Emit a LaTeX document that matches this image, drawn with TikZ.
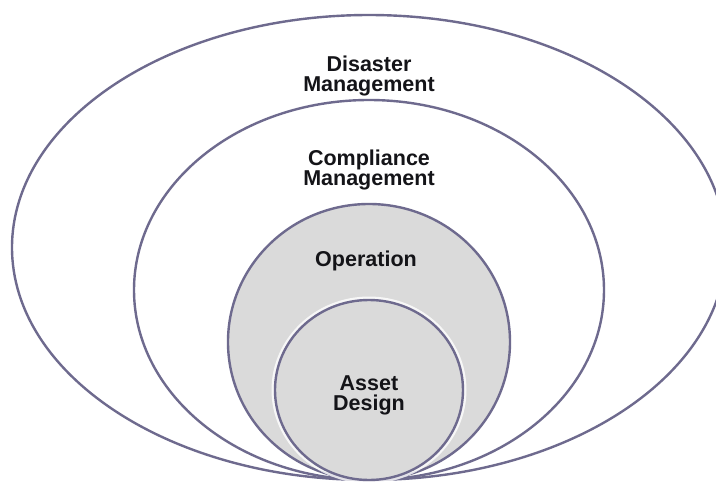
\documentclass[tikz,border=0pt]{standalone}
\usepackage{fontspec}
\setmainfont{Liberation Sans}
\begin{document}
\begin{tikzpicture}[x=1pt,y=-1pt,
  ring/.style={draw=ringline, line width=2.4pt},
  halo/.style={draw=white, line width=7pt, opacity=0.8},
  label/.style={font=\bfseries\fontsize{21.5}{20}\selectfont, text=labeltext,
    align=center, anchor=base, inner sep=0pt}]
  \definecolor{ringline}{RGB}{110,106,142}
  \definecolor{corefill}{RGB}{218,218,218}
  \definecolor{labeltext}{RGB}{20,20,24}
  \useasboundingbox (0,0) rectangle (716,485);
  \clip (0,0) rectangle (716,485);
  \fill[white] (0,0) rectangle (716,485);

  % outer band: disaster management
  \path[ring] (369,247.5) ellipse [x radius=357pt, y radius=232.5pt];
  % compliance management
  \path[ring] (369,290) ellipse [x radius=235pt, y radius=190pt];
  % operation disc
  \path[ring, fill=corefill] (369,342) ellipse [x radius=141pt, y radius=138pt];
  % asset design disc with its light rim
  \path[halo] (369,390) ellipse [x radius=94pt, y radius=90pt];
  \path[ring, fill=corefill] (369,390) ellipse [x radius=94pt, y radius=90pt];

  % two-line labels are placed by the baseline of their last line
  \node[label] (disasterLbl) at (369,91) {Disaster\\Management};
  \node[label] (complianceLbl) at (369,185) {Compliance\\Management};
  \node[label] (operationLbl) at (366,266) {Operation};
  \node[label] (assetLbl) at (369,410) {Asset\\Design};
\end{tikzpicture}
\end{document}
